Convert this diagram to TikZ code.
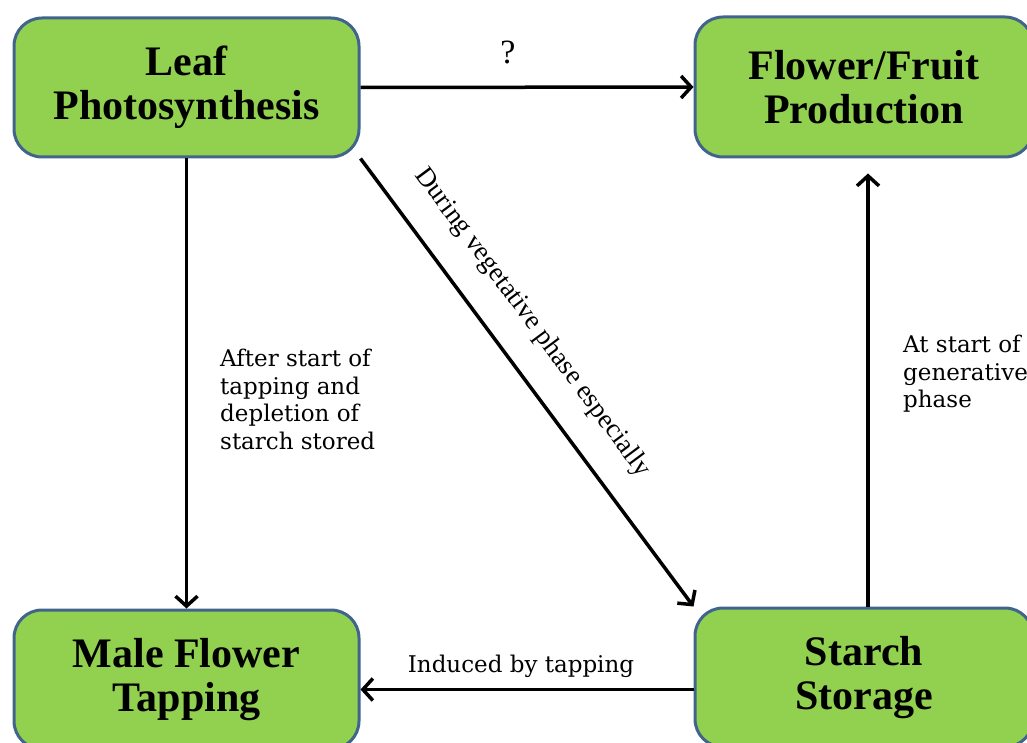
\documentclass[tikz,border=0pt]{standalone}
\usepackage{fontspec}
\setmainfont{Liberation Serif}
\newfontfamily\labelfont{DejaVu Serif}
\usetikzlibrary{arrows.meta}
\definecolor{boxgreen}{RGB}{146,208,80}
\definecolor{boxedge}{RGB}{65,100,140}
\tikzset{
  stage/.style={draw=boxedge, fill=boxgreen, line width=3pt, rounded corners=28pt,
    align=center, inner sep=0pt, font=\fontsize{42}{44}\selectfont\bfseries},
  arr/.style={line width=3.5pt, -{Straight Barb[length=10pt,width=22pt,line width=3.5pt]}},
  lbl/.style={inner sep=0pt, align=left, font=\labelfont\fontsize{23}{27.5}\selectfont},
  slbl/.style={inner sep=0pt, font=\fontsize{27}{30}\selectfont}
}
\begin{document}
\begin{tikzpicture}[x=1pt, y=-1pt]
\useasboundingbox (0,0) rectangle (1027,743);
\node[stage, minimum width=345pt, minimum height=139pt] (leaf) at (186.5,87.5) {Leaf\\Photosynthesis};
\node[stage, minimum width=338pt, minimum height=140pt] (flower) at (864,87) {Flower/Fruit\\Production};
\node[stage, minimum width=345pt, minimum height=139pt] (male) at (186.5,679.5) {Male Flower\\Tapping};
\node[stage, minimum width=338pt, minimum height=139pt] (starch) at (864,677.5) {Starch\\Storage};

\draw[arr] (leaf.east) -- (flower.west);
\node[inner sep=0pt, font=\fontsize{34}{36}\selectfont] (q) at (508,52) {?};

\draw[arr] (leaf.south) -- (male.north);
\node[lbl, anchor=north west] (after) at (220,349) {After start of\\tapping and\\depletion of\\starch stored};

\draw[arr] (leaf.south east) -- node[slbl, sloped, pos=0.42, above=26pt] (during) {During vegetative phase especially} (starch.north west);

\draw[arr] ([yshift=-12pt]starch.west) -- node[lbl, above=10pt, xshift=-6pt] (induced) {Induced by tapping} ([yshift=-12pt]starch.west -| male.east);

\draw[arr, shorten >=15pt] ([xshift=4pt]starch.north) -- ([xshift=4pt]flower.south);
\node[lbl, anchor=north west] (atstart) at (903,335) {At start of\\generative\\phase};
\end{tikzpicture}
\end{document}
